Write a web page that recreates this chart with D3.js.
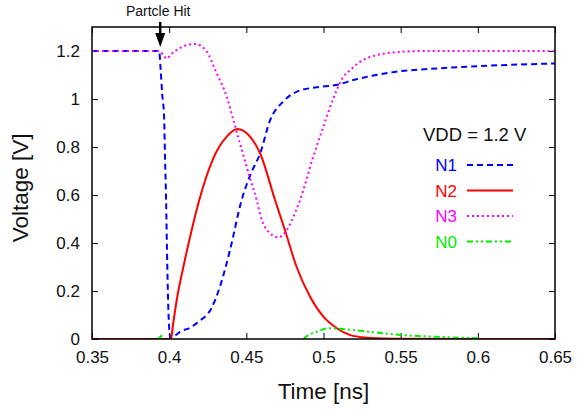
<!DOCTYPE html>
<html>
<head>
<meta charset="utf-8">
<script src="https://cdn.jsdelivr.net/npm/d3@7"></script>
<style>
  body { margin: 0; background: #fff; }
  svg { font-family: "Liberation Sans", Arial, sans-serif; }
</style>
</head>
<body>
<div id="chart"></div>
<script>
// Node voltages after the particle strike
const n1Time = [0.35, 0.3935, 0.3945, 0.3955, 0.3967, 0.3973, 0.398, 0.3988, 0.3996, 0.4002, 0.4008, 0.4018, 0.404, 0.407, 0.4135, 0.419, 0.4275, 0.433, 0.4394, 0.447, 0.453, 0.459, 0.4653, 0.474, 0.4825, 0.4955, 0.508, 0.52, 0.543, 0.575, 0.6075, 0.65];
const n1Volt = [1.2, 1.2, 1.12, 1.02, 0.926, 0.76, 0.58, 0.3, 0.1, 0.03, 0.005, 0.006, 0.015, 0.03, 0.047, 0.072, 0.13, 0.22, 0.37, 0.58, 0.69, 0.774, 0.91, 0.99, 1.03, 1.049, 1.058, 1.08, 1.11, 1.128, 1.139, 1.148];

const n2Time = [0.35, 0.4012, 0.4025, 0.4049, 0.4092, 0.4146, 0.4195, 0.4286, 0.4373, 0.4442, 0.4524, 0.4589, 0.4686, 0.475, 0.4826, 0.4913, 0.4999, 0.5086, 0.517, 0.525, 0.535, 0.55, 0.6, 0.65];
const n2Volt = [0, 0, 0.06, 0.1625, 0.30, 0.454, 0.579, 0.753, 0.843, 0.875, 0.843, 0.774, 0.579, 0.454, 0.30, 0.176, 0.093, 0.045, 0.017, 0.007, 0.003, 0.001, 0, 0];

const n3Time = [0.35, 0.3935, 0.396, 0.3985, 0.401, 0.405, 0.41, 0.4168, 0.4235, 0.4308, 0.4373, 0.4416, 0.4459, 0.451, 0.4567, 0.46, 0.4643, 0.4707, 0.4762, 0.4805, 0.4848, 0.4934, 0.4999, 0.5064, 0.5129, 0.5172, 0.5237, 0.5345, 0.5475, 0.5647, 0.65];
const n3Volt = [1.2, 1.2, 1.185, 1.168, 1.185, 1.205, 1.222, 1.229, 1.205, 1.107, 1.01, 0.9125, 0.815, 0.70, 0.579, 0.496, 0.447, 0.424, 0.454, 0.51, 0.579, 0.76, 0.885, 1.003, 1.093, 1.12, 1.155, 1.183, 1.195, 1.2, 1.2];

// null = hidden under the other traces
const n0Time = [0.393, 0.3945, 0.3955, 0.45, 0.4872, 0.4885, 0.4956, 0.503, 0.51, 0.52, 0.53, 0.55, 0.578, 0.6];
const n0Volt = [0, 0.01, 0.015, null, 0, 0.008, 0.03, 0.045, 0.043, 0.037, 0.03, 0.017, 0.008, 0.003];

const xTicks = [0.35, 0.4, 0.45, 0.5, 0.55, 0.6, 0.65];
const yTicks = [0, 0.2, 0.4, 0.6, 0.8, 1, 1.2];

const seriesNames = ["N1", "N2", "N3", "N0"];
const seriesColors = ["#0000ff", "#ff0000", "#ff00ff", "#00ee00"];
const seriesDash = ["6,4", null, "2,3", "6,3,2,3,2,3"];

const hitTime = 0.3942;

const width = 579, height = 412;
const margin = { left: 92, right: 24, top: 27, bottom: 73 };

const x_scale = d3.scaleLinear().domain([0.35, 0.65]).range([margin.left, width - margin.right]);
const y_scale = d3.scaleLinear().domain([0, 1.3]).range([height - margin.bottom, margin.top]);

const svg = d3.select("#chart").append("svg")
    .attr("width", width)
    .attr("height", height);

svg.append("clipPath").attr("id", "plot-clip")
    .append("rect")
    .attr("x", margin.left).attr("y", margin.top)
    .attr("width", width - margin.left - margin.right)
    .attr("height", height - margin.top - margin.bottom);

// Axes (ticks point inwards, mirrored on top/right)
const fmt = d3.format("~g");
svg.append("g")
    .attr("transform", `translate(0, ${height - margin.bottom})`)
    .call(d3.axisBottom(x_scale).tickValues(xTicks).tickFormat(fmt).tickSizeInner(-6).tickSizeOuter(0).tickPadding(12))
    .call((g) => g.select(".domain").remove())
    .call((g) => g.selectAll("text").attr("font-size", 17).attr("fill", "#111"));

svg.append("g")
    .attr("transform", `translate(0, ${margin.top})`)
    .call(d3.axisTop(x_scale).tickValues(xTicks).tickFormat("").tickSizeInner(-6).tickSizeOuter(0))
    .call((g) => g.select(".domain").remove());

svg.append("g")
    .attr("transform", `translate(${margin.left}, 0)`)
    .call(d3.axisLeft(y_scale).tickValues(yTicks).tickFormat(fmt).tickSizeInner(-6).tickSizeOuter(0).tickPadding(12))
    .call((g) => g.select(".domain").remove())
    .call((g) => g.selectAll("text").attr("font-size", 17).attr("fill", "#111"));

svg.append("g")
    .attr("transform", `translate(${width - margin.right}, 0)`)
    .call(d3.axisRight(y_scale).tickValues(yTicks).tickFormat("").tickSizeInner(-6).tickSizeOuter(0))
    .call((g) => g.select(".domain").remove());

// Traces
const series = [
    { t: n1Time, v: n1Volt },
    { t: n2Time, v: n2Volt },
    { t: n3Time, v: n3Volt },
    { t: n0Time, v: n0Volt }
];

const line = d3.line()
    .defined((d) => d[1] != null)
    .x((d) => x_scale(d[0]))
    .y((d) => y_scale(d[1]))
    .curve(d3.curveMonotoneX);

const plot = svg.append("g").attr("clip-path", "url(#plot-clip)");
series.forEach((s, i) => {
    plot.append("path")
        .datum(s.t.map((t, j) => [t, s.v[j]]))
        .attr("fill", "none")
        .attr("stroke", seriesColors[i])
        .attr("stroke-width", 2)
        .attr("stroke-dasharray", seriesDash[i])
        .attr("d", line);
});

// Frame
svg.append("rect")
    .attr("x", margin.left).attr("y", margin.top)
    .attr("width", width - margin.left - margin.right)
    .attr("height", height - margin.top - margin.bottom)
    .attr("fill", "none")
    .attr("stroke", "#000")
    .attr("stroke-width", 1.5);

// Axis titles
svg.append("text")
    .attr("x", (margin.left + width - margin.right) / 2)
    .attr("y", 399)
    .attr("text-anchor", "middle")
    .attr("font-size", 22.5)
    .attr("fill", "#111")
    .text("Time [ns]");

svg.append("text")
    .attr("transform", `translate(28, ${y_scale(0.63)}) rotate(-90)`)
    .attr("text-anchor", "middle")
    .attr("font-size", 22.5)
    .attr("fill", "#111")
    .text("Voltage [V]");

// Legend
const legend = svg.append("g");
legend.append("text")
    .attr("x", 423).attr("y", 141)
    .attr("font-size", 18.5)
    .attr("fill", "#111")
    .text("VDD = 1.2 V");

seriesNames.forEach((name, i) => {
    const ly = 165 + i * 25.5;
    legend.append("text")
        .attr("x", 457).attr("y", ly + 6)
        .attr("text-anchor", "end")
        .attr("font-size", 17)
        .attr("fill", seriesColors[i])
        .text(name);
    legend.append("line")
        .attr("x1", 467).attr("x2", 513)
        .attr("y1", ly).attr("y2", ly)
        .attr("stroke", seriesColors[i])
        .attr("stroke-width", 2)
        .attr("stroke-dasharray", seriesDash[i]);
});

// Particle hit annotation
const ax = x_scale(hitTime);
svg.append("text")
    .attr("x", ax - 2).attr("y", 16)
    .attr("text-anchor", "middle")
    .attr("font-size", 14)
    .attr("fill", "#111")
    .text("Partcle Hit");
svg.append("line")
    .attr("x1", ax).attr("x2", ax)
    .attr("y1", 22).attr("y2", 35)
    .attr("stroke", "#000")
    .attr("stroke-width", 2.5);
svg.append("path")
    .attr("d", `M${ax - 5},33 L${ax + 5},33 L${ax},47 Z`)
    .attr("fill", "#000");
</script>
</body>
</html>
